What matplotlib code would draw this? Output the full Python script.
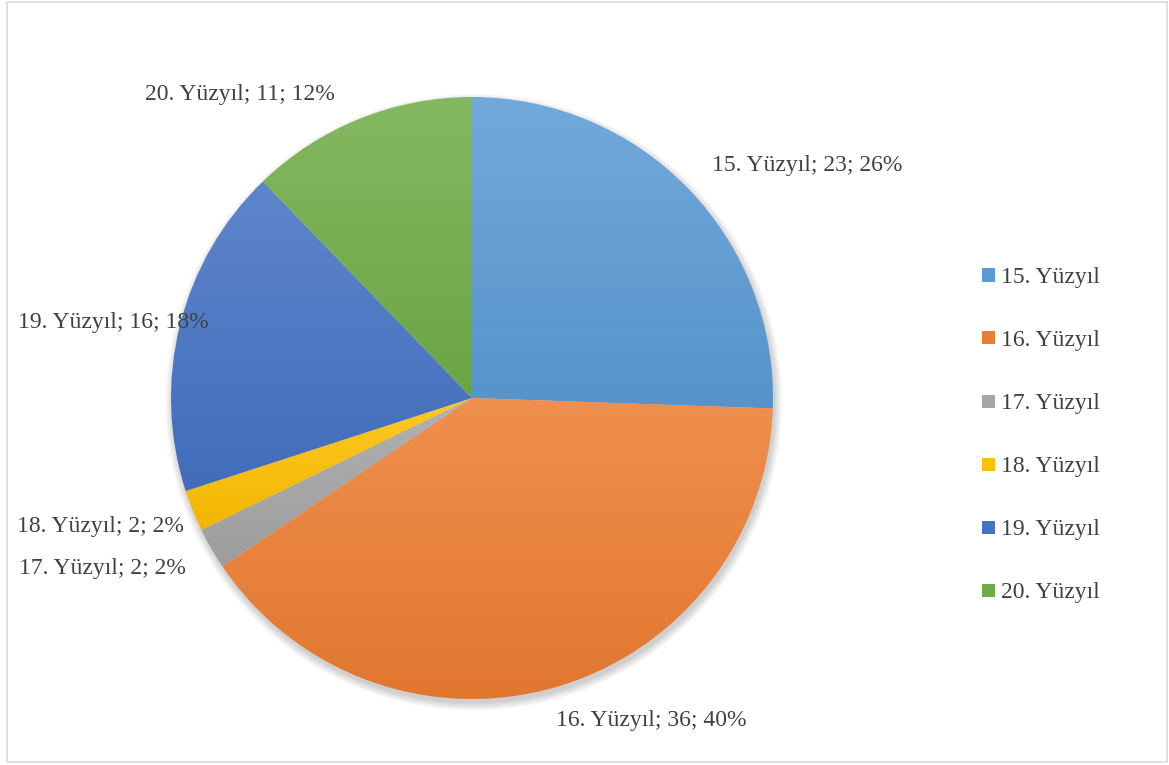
import numpy as np
import matplotlib
matplotlib.use("Agg")
import matplotlib.pyplot as plt
from matplotlib.patches import Rectangle, Circle
from matplotlib.colors import to_rgb

categories = ["15. Yüzyıl", "16. Yüzyıl", "17. Yüzyıl", "18. Yüzyıl", "19. Yüzyıl", "20. Yüzyıl"]
counts = [23, 36, 2, 2, 16, 11]
colors = ["#5B9BD5", "#ED7D31", "#A5A5A5", "#FFC000", "#4472C4", "#70AD47"]

# label anchor positions (pie data units, radius = 1), placed like Excel's best fit
label_pos = [(1.113, 0.773), (0.595, -1.071), (-1.229, -0.566),
             (-1.233, -0.427), (-1.193, 0.251), (-0.771, 1.009)]

plt.rcParams['font.family'] = ['Liberation Serif', 'DejaVu Serif']
text_color = "#404040"

W, H = 1169, 765
fig = plt.figure(figsize=(W / 100, H / 100), dpi=100)

# outer chart border
fig.patches.append(Rectangle((7 / W, 3 / H), (1167 - 7) / W, (763 - 3) / H,
                             transform=fig.transFigure, fill=False,
                             edgecolor="#D9D9D9", linewidth=1.2))

cx, cy, r = 472, 398, 301
ax = fig.add_axes([(cx - r) / W, (H - cy - r) / H, 2 * r / W, 2 * r / H])
ax.set_xlim(-1, 1)
ax.set_ylim(-1, 1)
ax.set_aspect("equal")
ax.axis("off")

# soft shadow below the pie
for i in range(8):
    ax.add_patch(Circle((0.006, -0.014), 1.0 + 0.0035 * i, color="black",
                        alpha=0.025, linewidth=0, zorder=0, clip_on=False))

wedges, _ = ax.pie(counts, startangle=90, counterclock=False, radius=1,
                   colors=colors, wedgeprops=dict(linewidth=0))


def shade(c, f):
    c = np.array(to_rgb(c))
    if f > 0:
        return c + (1 - c) * f
    return c * (1 + f)


# vertical gradient inside each slice (light on top, darker at the bottom)
for w, c in zip(wedges, colors):
    w.set_facecolor("none")
    verts = w.get_path().vertices
    x0, x1 = verts[:, 0].min(), verts[:, 0].max()
    y0, y1 = verts[:, 1].min(), verts[:, 1].max()
    top = shade(c, 0.14)
    bot = shade(c, -0.05)
    t = np.linspace(0, 1, 256)[:, None]
    grad = top[None, :] * (1 - t) + bot[None, :] * t
    img = ax.imshow(grad[:, None, :], extent=(x0, x1, y0, y1), origin="upper",
                    aspect="auto", zorder=1, interpolation="bilinear")
    img.set_clip_path(w)

ax.set_xlim(-1, 1)
ax.set_ylim(-1, 1)

total = sum(counts)
for name, v, (lx, ly) in zip(categories, counts, label_pos):
    pct = round(100 * v / total)
    ax.text(lx, ly, f"{name}; {v}; {pct}%", ha="center", va="center",
            fontsize=17, color=text_color, clip_on=False, zorder=5)

# legend
for i, (name, c) in enumerate(zip(categories, colors)):
    yy = 276 + i * 63
    fig.patches.append(Rectangle((982 / W, (H - yy - 5.5) / H), 13 / W, 13 / H,
                                 transform=fig.transFigure, facecolor=c,
                                 edgecolor="none"))
    fig.text(1001 / W, (H - yy - 1.5) / H, name, ha="left", va="center",
             fontsize=17, color=text_color)

fig.savefig("out.png", dpi=100, facecolor="white")
